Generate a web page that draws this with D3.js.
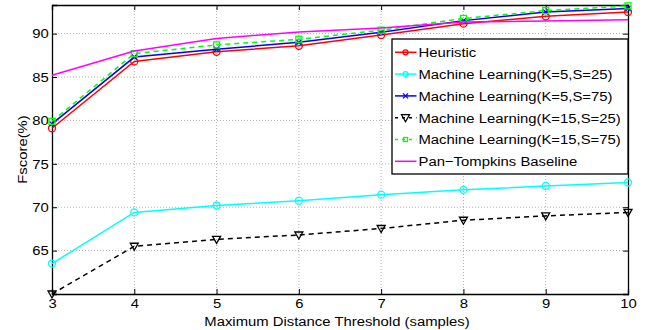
<!DOCTYPE html>
<html lang="en">
  <head>
    <meta charset="utf-8">
    <title>Fscore vs maximum distance threshold</title>
    <script src="https://cdn.jsdelivr.net/npm/d3@7"></script>
    <style>
      body { margin: 0; background: #fff; }
      text { font-family: "Liberation Sans", Arial, sans-serif; }
    </style>
  </head>
  <body>
    <script type="text/javascript">
      // values
      var thresholds = [3, 4, 5, 6, 7, 8, 9, 10];
      var yTicks = [65, 70, 75, 80, 85, 90];

      var heuristic  = [79.1, 86.8, 87.9, 88.6, 89.85, 91.15, 92.0, 92.5];
      var ml_5_25    = [63.5, 69.4, 70.2, 70.75, 71.45, 72.0, 72.45, 72.85];
      var ml_5_75    = [79.6, 87.3, 88.2, 89.0, 90.15, 91.5, 92.5, 92.9];
      var ml_15_25   = [60.0, 65.5, 66.3, 66.8, 67.55, 68.5, 69.0, 69.4];
      var ml_15_75   = [79.9, 87.7, 88.7, 89.35, 90.4, 91.75, 92.65, 93.2];
      var panTompkins = [85.2, 88.0, 89.45, 90.2, 90.65, 91.35, 91.45, 91.6];

      var seriesNames = [
        "Heuristic",
        "Machine Learning(K=5,S=25)",
        "Machine Learning(K=5,S=75)",
        "Machine Learning(K=15,S=25)",
        "Machine Learning(K=15,S=75)",
        "Pan\u2212Tompkins Baseline"
      ];

      var series = [
        { name: seriesNames[0], values: heuristic,   color: "#ff0000", dash: null,  marker: "circle" },
        { name: seriesNames[1], values: ml_5_25,     color: "#00ffff", dash: null,  marker: "circle" },
        { name: seriesNames[2], values: ml_5_75,     color: "#0000ff", dash: null,  marker: "x" },
        { name: seriesNames[3], values: ml_15_25,    color: "#000000", dash: "5,4", marker: "triangle" },
        { name: seriesNames[4], values: ml_15_75,    color: "#00ff00", dash: "5,4", marker: "square" },
        { name: seriesNames[5], values: panTompkins, color: "#ff00ff", dash: null,  marker: null }
      ];

      var width = 649, height = 330;
      var margin = { left: 52, right: 21, top: 5, bottom: 36 };
      var innerW = width - margin.left - margin.right,
          innerH = height - margin.top - margin.bottom;

      // the figure's text is a bit wider than plain Arial, so stretch it sideways
      var fontSize = "13.5px", stretch = "scale(1.1,1)";

      var svg = d3.select("body")
        .append("svg")
          .attr("width", width)
          .attr("height", height);

      var g = svg.append("g")
          .attr("transform", "translate(" + margin.left + "," + margin.top + ")");

      var x = d3.scaleLinear().domain([3, 10]).range([0, innerW]);
      var y = d3.scaleLinear().domain([60, 93.3]).range([innerH, 0]);

      // dotted grid
      g.append("g")
        .selectAll("line")
        .data(thresholds.slice(1, -1))
        .enter().append("line")
          .attr("x1", function (d) { return x(d); })
          .attr("x2", function (d) { return x(d); })
          .attr("y1", 0).attr("y2", innerH)
          .attr("stroke", "#b0b0b0")
          .attr("stroke-width", 1)
          .attr("stroke-dasharray", "1,2");
      g.append("g")
        .selectAll("line")
        .data(yTicks)
        .enter().append("line")
          .attr("x1", 0).attr("x2", innerW)
          .attr("y1", function (d) { return y(d); })
          .attr("y2", function (d) { return y(d); })
          .attr("stroke", "#b0b0b0")
          .attr("stroke-width", 1)
          .attr("stroke-dasharray", "1,2");

      // axes, ticks pointing inward like matlab
      var xAxis = d3.axisBottom(x).tickValues(thresholds).tickSize(-5).tickPadding(4.5).tickFormat(d3.format("d"));
      var yAxis = d3.axisLeft(y).tickValues(yTicks).tickSize(-5).tickPadding(3);
      var xTop = d3.axisTop(x).tickValues(thresholds).tickSize(-5).tickFormat("");
      var yRight = d3.axisRight(y).tickValues(yTicks).tickSize(-5).tickFormat("");

      g.append("g").attr("transform", "translate(0," + innerH + ")").call(xAxis);
      g.append("g").call(yAxis);
      g.append("g").call(xTop);
      g.append("g").attr("transform", "translate(" + innerW + ",0)").call(yRight);

      g.selectAll(".domain").attr("stroke", "#000").attr("stroke-width", 1.3);
      g.selectAll(".tick line").attr("stroke", "#000");
      g.selectAll(".tick text")
        .style("font-size", fontSize)
        .attr("fill", "#000")
        .attr("transform", stretch);

      // lines
      var line = d3.line()
        .x(function (d, i) { return x(thresholds[i]); })
        .y(function (d) { return y(d); });

      function drawMarker(sel, type, color, r) {
        r = r || 3.5;
        if (type === "circle") {
          sel.append("circle").attr("r", r)
            .attr("fill", "none").attr("stroke", color).attr("stroke-width", 1.3);
        } else if (type === "square") {
          sel.append("rect").attr("x", -r + 0.5).attr("y", -r + 0.5).attr("width", 2 * r - 1).attr("height", 2 * r - 1)
            .attr("fill", "none").attr("stroke", color).attr("stroke-width", 1.3);
        } else if (type === "triangle") {
          sel.append("path").attr("d", "M-4,-3L4,-3L0,4Z")
            .attr("fill", "none").attr("stroke", color).attr("stroke-width", 1.3);
        } else if (type === "x") {
          sel.append("path").attr("d", "M-2.5,-2.5L2.5,2.5M-2.5,2.5L2.5,-2.5")
            .attr("fill", "none").attr("stroke", color).attr("stroke-width", 1.3);
        }
      }

      var plot = g.append("g");
      series.forEach(function (s) {
        plot.append("path")
          .datum(s.values)
          .attr("d", line)
          .attr("fill", "none")
          .attr("stroke", s.color)
          .attr("stroke-width", 1.5)
          .attr("stroke-dasharray", s.dash);
        if (s.marker) {
          plot.selectAll(null)
            .data(s.values)
            .enter().append("g")
              .attr("transform", function (d, i) { return "translate(" + x(thresholds[i]) + "," + y(d) + ")"; })
              .each(function () { drawMarker(d3.select(this), s.marker, s.color); });
        }
      });

      // axis titles
      svg.append("text")
        .attr("transform", "translate(" + (margin.left + innerW / 2 - 3) + ",325.5) " + stretch)
        .attr("text-anchor", "middle")
        .style("font-size", fontSize)
        .text("Maximum Distance Threshold (samples)");

      svg.append("text")
        .attr("transform", "translate(26.5," + (margin.top + innerH / 2) + ") rotate(-90) " + stretch)
        .attr("text-anchor", "middle")
        .style("font-size", fontSize)
        .text("Fscore(%)");

      // legend
      var legX = 392, legY = 39, legW = 236, legH = 135, rowH = 21.8;
      var legend = svg.append("g").attr("transform", "translate(" + legX + "," + legY + ")");
      legend.append("rect")
        .attr("width", legW).attr("height", legH)
        .attr("fill", "#fff").attr("stroke", "#000").attr("stroke-width", 1.3);

      var rows = legend.selectAll("g.row")
        .data(series)
        .enter().append("g")
          .attr("class", "row")
          .attr("transform", function (d, i) { return "translate(0," + (13.3 + i * rowH) + ")"; });
      rows.append("line")
        .attr("x1", 3).attr("x2", 24.5)
        .attr("stroke", function (d) { return d.color; })
        .attr("stroke-width", 1.5)
        .attr("stroke-dasharray", function (d) { return d.dash ? "3,4" : null; });
      rows.append("g")
        .attr("transform", "translate(13.5,0)")
        .each(function (d) { drawMarker(d3.select(this), d.marker, d.color, 2.5); });
      rows.append("text")
        .attr("transform", "translate(26.5,0) " + stretch)
        .attr("dy", "0.36em")
        .style("font-size", fontSize)
        .text(function (d) { return d.name; });
    </script>
  </body>
</html>
